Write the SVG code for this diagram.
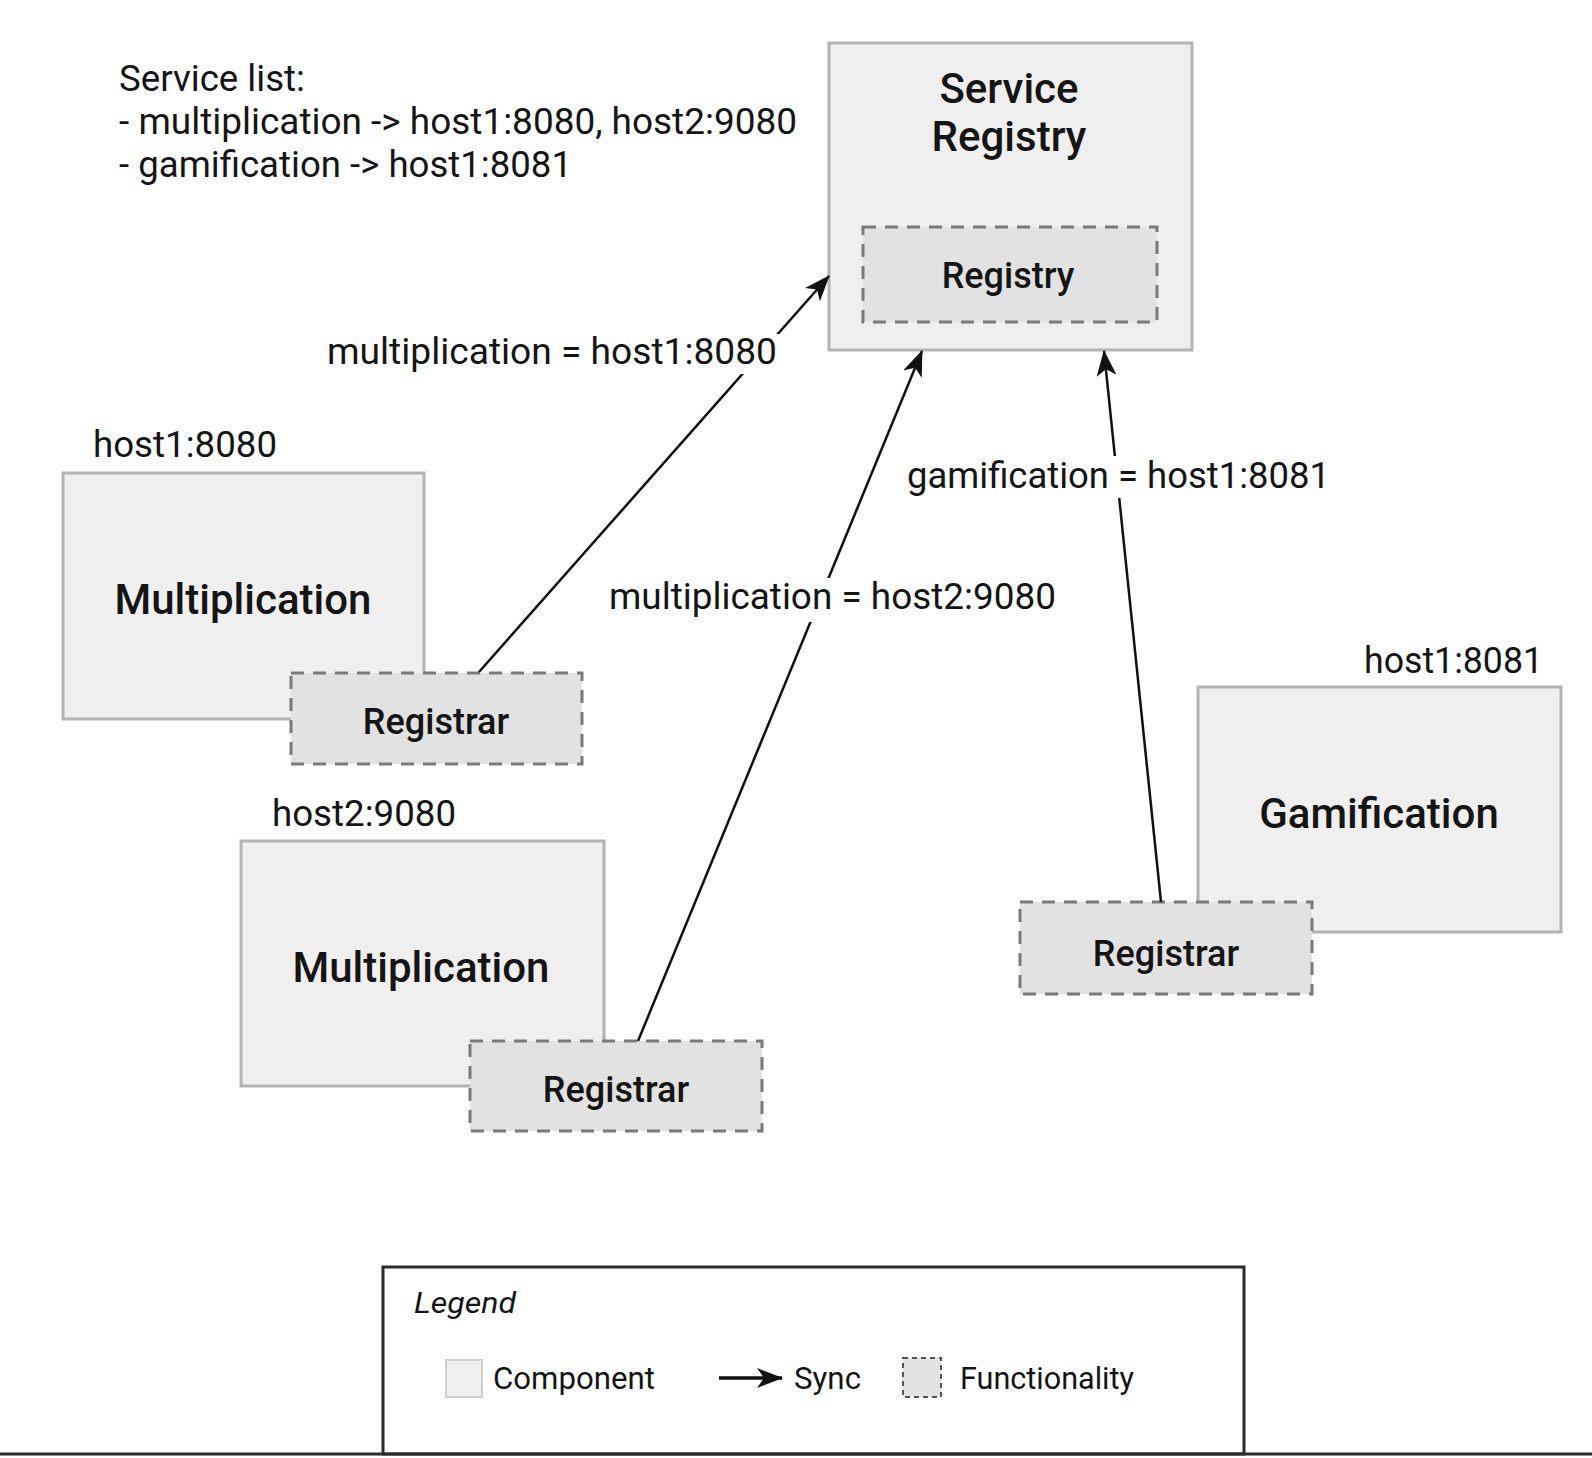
<svg xmlns="http://www.w3.org/2000/svg" width="1592" height="1458" viewBox="0 0 1592 1458">
<style>
text{font-family:Roboto,"Liberation Sans",sans-serif;fill:#151515}
.comp{fill:#efefef;stroke:#b3b3b3;stroke-width:3}
.func{fill:#e2e2e2;stroke:#7a7a7a;stroke-width:3;stroke-dasharray:13 9}
.title{font-size:42px;font-weight:500;text-anchor:middle}
.ftitle{font-size:36px;font-weight:500;text-anchor:middle}
.lbl{font-size:36px}
.conn{stroke:#111;stroke-width:2.5;fill:none;marker-end:url(#ah)}
.bg{fill:#fff}
.leg{font-size:31px}
</style>
<defs>
<marker id="ah" viewBox="0 0 26 20" refX="25" refY="10" markerWidth="26" markerHeight="20" markerUnits="userSpaceOnUse" orient="auto">
<path d="M0,0 L26,10 L0,20 L7,10 Z" fill="#111"/>
</marker>
</defs>
<rect width="1592" height="1458" fill="#fff"/>

<g id="service-list">
<text class="lbl" x="119" y="91" textLength="186" lengthAdjust="spacingAndGlyphs">Service list:</text>
<text class="lbl" x="119" y="134" textLength="678" lengthAdjust="spacingAndGlyphs">- multiplication -&gt; host1:8080, host2:9080</text>
<text class="lbl" x="119" y="177" textLength="453" lengthAdjust="spacingAndGlyphs">- gamification -&gt; host1:8081</text>
</g>

<g id="service-registry">
<rect class="comp" x="829" y="43" width="363" height="307"/>
<text class="title" x="1009" y="103">Service</text>
<text class="title" x="1009" y="151">Registry</text>
</g>
<g id="registry">
<rect class="func" x="863" y="227" width="294" height="95"/>
<text class="ftitle" x="1008" y="288">Registry</text>
</g>

<g id="multiplication-1">
<text class="lbl" x="93" y="457" textLength="184" lengthAdjust="spacingAndGlyphs">host1:8080</text>
<rect class="comp" x="63" y="473" width="361" height="246"/>
<text class="title" x="243" y="614">Multiplication</text>
</g>
<g id="registrar-1">
<rect class="func" x="291" y="673" width="291" height="91"/>
<text class="ftitle" x="436" y="734">Registrar</text>
</g>

<g id="multiplication-2">
<text class="lbl" x="272" y="826" textLength="184" lengthAdjust="spacingAndGlyphs">host2:9080</text>
<rect class="comp" x="241" y="841" width="363" height="245"/>
<text class="title" x="421" y="982">Multiplication</text>
</g>
<g id="registrar-2">
<rect class="func" x="470" y="1041" width="292" height="90"/>
<text class="ftitle" x="616" y="1102">Registrar</text>
</g>

<g id="gamification">
<text class="lbl" x="1364" y="673" textLength="179" lengthAdjust="spacingAndGlyphs">host1:8081</text>
<rect class="comp" x="1198" y="687" width="363" height="245"/>
<text class="title" x="1379" y="828">Gamification</text>
</g>
<g id="registrar-3">
<rect class="func" x="1020" y="902" width="292" height="92"/>
<text class="ftitle" x="1166" y="966">Registrar</text>
</g>

<g id="connectors">
<line class="conn" x1="479" y1="672" x2="829" y2="276"/>
<line class="conn" x1="638" y1="1041" x2="922" y2="351"/>
<line class="conn" x1="1161" y1="902" x2="1104" y2="351"/>
<rect class="bg" x="322" y="334" width="460" height="40"/>
<text class="lbl" x="327" y="364" textLength="450" lengthAdjust="spacingAndGlyphs">multiplication = host1:8080</text>
<rect class="bg" x="903" y="456" width="432" height="42"/>
<text class="lbl" x="907" y="488" textLength="423" lengthAdjust="spacingAndGlyphs">gamification = host1:8081</text>
<rect class="bg" x="604" y="578" width="456" height="44"/>
<text class="lbl" x="609" y="609" textLength="447" lengthAdjust="spacingAndGlyphs">multiplication = host2:9080</text>
</g>

<g id="legend">
<rect x="383" y="1267" width="861" height="187" fill="#fff" stroke="#2a2a2a" stroke-width="3"/>
<text x="414" y="1313" font-size="30" font-style="italic" textLength="102" lengthAdjust="spacingAndGlyphs">Legend</text>
<rect x="446" y="1360" width="36" height="37" fill="#efefef" stroke="#cfcfcf" stroke-width="2"/>
<text class="leg" x="493" y="1389" textLength="162" lengthAdjust="spacingAndGlyphs">Component</text>
<line x1="719" y1="1378" x2="782" y2="1378" stroke="#111" stroke-width="3.5" marker-end="url(#ah)"/>
<text class="leg" x="794" y="1389" textLength="67" lengthAdjust="spacingAndGlyphs">Sync</text>
<rect x="903" y="1358" width="38" height="39" fill="#e2e2e2" stroke="#555" stroke-width="2" stroke-dasharray="5 4"/>
<text class="leg" x="960" y="1389" textLength="174" lengthAdjust="spacingAndGlyphs">Functionality</text>
</g>
<line id="baseline" x1="0" y1="1454" x2="1592" y2="1454" stroke="#2a2a2a" stroke-width="3"/>
</svg>
